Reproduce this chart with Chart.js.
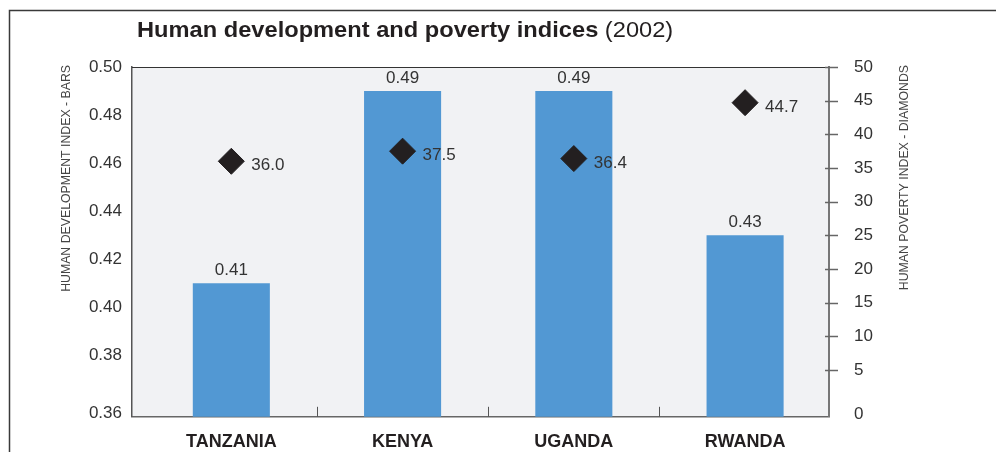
<!DOCTYPE html>
<html><head><meta charset="utf-8">
<script src="https://cdn.jsdelivr.net/npm/chart.js@4"></script>
<style>html,body{margin:0;padding:0;background:#fff;overflow:hidden}#wrap{width:996px;height:452px}</style>
</head><body><div id="wrap"><canvas id="c" width="996" height="452"></canvas></div>
<script>
// ---- data ----
const categories = ['TANZANIA', 'KENYA', 'UGANDA', 'RWANDA'];
const hdiValues = [0.41, 0.49, 0.49, 0.43];          // bars (left axis)
const hpiValues = [36.0, 37.5, 36.4, 44.7];          // diamonds (right axis)
const hdiTickLabels = ['0.36', '0.38', '0.40', '0.42', '0.44', '0.46', '0.48', '0.50'];
const hpiTickLabels = ['0', '5', '10', '15', '20', '25', '30', '35', '40', '45', '50'];
const titleMain = 'Human development and poverty indices';
const titleYear = '(2002)';
const leftAxisTitle = 'HUMAN DEVELOPMENT INDEX - BARS';
const rightAxisTitle = 'HUMAN POVERTY INDEX - DIAMONDS';

const FONT = '"Liberation Sans", Arial, Helvetica, sans-serif';

// bottom tick label of each value axis sits down at the axis floor in the original
function valueTicks(labels, floorNudge) {
  return labels.map((l, i) => ({ value: parseFloat(l) - (i === 0 ? floorNudge : 0) }));
}

const decor = {
  id: 'decor',
  beforeDraw(chart) {
    const { ctx, chartArea: a } = chart;
    ctx.save();
    ctx.fillStyle = '#fff';
    ctx.fillRect(0, 0, chart.width, chart.height);
    // frame
    ctx.strokeStyle = '#3a3a3a';
    ctx.lineWidth = 1.5;
    ctx.beginPath();
    ctx.moveTo(9.5, chart.height);
    ctx.lineTo(9.5, 10.5);
    ctx.lineTo(chart.width, 10.5);
    ctx.stroke();
    // plot background
    ctx.fillStyle = '#f1f2f4';
    ctx.fillRect(a.left, a.top, a.right - a.left, a.bottom - a.top);
    ctx.restore();
  },
  afterDraw(chart) {
    const { ctx, chartArea: a } = chart;
    const xs = chart.scales.x, y2 = chart.scales.y2;
    ctx.save();
    // top border of plot
    ctx.strokeStyle = '#333';
    ctx.lineWidth = 1.2;
    ctx.beginPath();
    ctx.moveTo(a.left, a.top + 0.5);
    ctx.lineTo(a.right, a.top + 0.5);
    ctx.stroke();
    // category divider ticks
    ctx.strokeStyle = '#555';
    ctx.lineWidth = 1;
    for (let i = 0; i < categories.length - 1; i++) {
      const px = Math.round(xs.getPixelForValue(i + 0.5)) + 0.5;
      ctx.beginPath();
      ctx.moveTo(px, a.bottom);
      ctx.lineTo(px, a.bottom - 10);
      ctx.stroke();
    }
    // right axis crossing tick marks
    ctx.strokeStyle = '#666';
    ctx.lineWidth = 1.5;
    y2.ticks.forEach((t, i) => {
      if (i === 0) return;
      const py = Math.round(y2.getPixelForValue(t.value)) + 0.5;
      ctx.beginPath();
      ctx.moveTo(a.right - 4, py);
      ctx.lineTo(a.right + 9, py);
      ctx.stroke();
    });
    // value labels
    ctx.fillStyle = '#333';
    ctx.font = '17px ' + FONT;
    ctx.textBaseline = 'alphabetic';
    const bars = chart.getDatasetMeta(0).data;
    ctx.textAlign = 'center';
    bars.forEach((b, i) => ctx.fillText(hdiValues[i].toFixed(2), b.x, b.y - 8));
    const pts = chart.getDatasetMeta(1).data;
    ctx.textAlign = 'left';
    pts.forEach((p, i) => ctx.fillText(hpiValues[i].toFixed(1), p.x + 20, p.y + 9));
    // title (original face is wider than Liberation Sans: stretch horizontally)
    ctx.save();
    ctx.translate(137, 37);
    ctx.scale(1.1, 1);
    ctx.fillStyle = '#231f20';
    ctx.font = 'bold 21.5px ' + FONT;
    ctx.fillText(titleMain, 0, 0);
    const w = ctx.measureText(titleMain + ' ').width;
    ctx.font = '21.5px ' + FONT;
    ctx.fillText(titleYear, w, 0);
    ctx.restore();
    // axis titles
    ctx.fillStyle = '#444';
    ctx.font = '12.3px ' + FONT;
    ctx.textAlign = 'right';
    ctx.textBaseline = 'middle';
    [[67, leftAxisTitle], [905, rightAxisTitle]].forEach(([x, t]) => {
      ctx.save();
      ctx.translate(x, a.top - 2);
      ctx.rotate(-Math.PI / 2);
      ctx.fillText(t, 0, 0);
      ctx.restore();
    });
    ctx.restore();
  }
};

new Chart(document.getElementById('c'), {
  type: 'bar',
  data: {
    datasets: [
      {
        type: 'bar',
        label: 'Human development index',
        data: hdiValues.map((v, i) => ({ x: i, y: v })),
        yAxisID: 'y',
        backgroundColor: '#5298d3',
        barPercentage: 0.45,
        categoryPercentage: 1,
        order: 2
      },
      {
        type: 'line',
        label: 'Human poverty index',
        data: hpiValues.map((v, i) => ({ x: i, y: v })),
        yAxisID: 'y2',
        showLine: false,
        pointStyle: 'rectRot',
        pointRadius: 13,
        pointHoverRadius: 13,
        backgroundColor: '#231f20',
        borderColor: '#231f20',
        borderWidth: 1,
        order: 1
      }
    ]
  },
  plugins: [decor],
  options: {
    responsive: false,
    animation: false,
    devicePixelRatio: 1,
    layout: { padding: { top: 67, left: 0, right: 0, bottom: 0 } },
    plugins: { legend: { display: false }, tooltip: { enabled: false }, title: { display: false } },
    scales: {
      x: {
        type: 'linear',
        min: -0.58,
        max: 3.49,
        offset: false,
        grid: { display: false, drawTicks: false },
        border: { display: true, color: '#666', width: 1.5 },
        afterBuildTicks: s => { s.ticks = categories.map((c, i) => ({ value: i })); },
        afterFit: s => { s.height = 34; },
        ticks: {
          callback: (v, i) => categories[i],
          autoSkip: false, maxRotation: 0,
          padding: 14,
          color: '#231f20',
          font: { family: FONT, size: 18, weight: 'bold' }
        }
      },
      y: {
        position: 'left',
        min: 0.35436,
        max: 0.50,
        grid: { display: false, drawTicks: false },
        border: { display: true, color: '#555', width: 1.5 },
        afterBuildTicks: s => { s.ticks = valueTicks(hdiTickLabels, 0.0043); },
        afterFit: s => { s.width = 132; },
        ticks: {
          callback: (v, i) => hdiTickLabels[i],
          padding: 10,
          color: '#333',
          font: { family: FONT, size: 17 }
        }
      },
      y2: {
        position: 'right',
        min: -1.95,
        max: 50,
        grid: { display: false, drawTicks: false },
        border: { display: true, color: '#777', width: 2 },
        afterBuildTicks: s => { s.ticks = valueTicks(hpiTickLabels, 1.6); },
        afterFit: s => { s.width = 167; },
        ticks: {
          callback: (v, i) => hpiTickLabels[i],
          padding: 25,
          color: '#333',
          font: { family: FONT, size: 17 }
        }
      }
    }
  }
});
</script>
</body></html>
